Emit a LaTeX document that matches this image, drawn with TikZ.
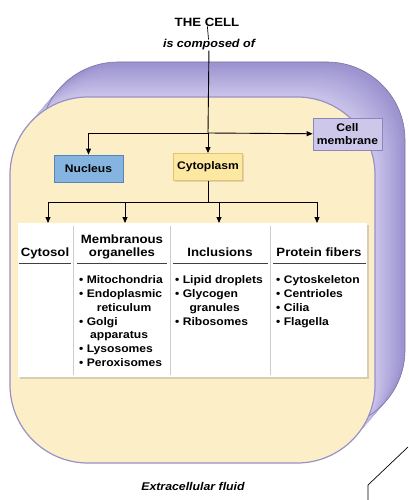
\documentclass[tikz,border=0pt]{standalone}
\usepackage{fontspec}
\setmainfont{Liberation Sans}[FakeStretch=1.1]
\usetikzlibrary{arrows.meta,shadows}
\definecolor{cream}{HTML}{FCEFC8}
\definecolor{cellline}{HTML}{9890C6}
\definecolor{lilaclight}{HTML}{CCC6EC}
\definecolor{lilacdark}{HTML}{9A91CE}
\definecolor{nucfill}{HTML}{85B4E0}
\definecolor{nucline}{HTML}{5784B4}
\definecolor{cytfill}{HTML}{FDE8A2}
\definecolor{cytline}{HTML}{E4C36E}
\definecolor{memfill}{HTML}{CDC7EA}
\definecolor{memline}{HTML}{8D85BE}

\begin{document}
\begin{tikzpicture}[x=1pt,y=-1pt,
            every node/.style={font=\bfseries\fontsize{11}{13}\selectfont, inner sep=0pt},
            arr/.style={-{Triangle[length=6pt,width=5pt]}, line width=0.9pt},
            box/.style={draw, line width=0.8pt, minimum width=69pt, minimum height=27pt,
                drop shadow={opacity=0.25, shadow xshift=1pt, shadow yshift=-1pt}},
            head/.style={anchor=base, align=center, font=\bfseries\fontsize{12}{12.5}\selectfont},
            items/.style={anchor=north west, align=left,
                font=\bfseries\fontsize{11}{13.8}\selectfont},
            sepline/.style={black!20, line width=0.6pt},
            underline/.style={black!75, line width=0.9pt}]
            \useasboundingbox (0,0) rectangle (408,500);

            % membrane seen from the side
            \foreach \t in {30,29,...,1}
                \fill[lilacdark!\fpeval{round(\t*100/30)}!lilaclight, shift={(\t,{-\t*35/30})},
                    rounded corners=78pt] (10,97) rectangle (375,463);
            \draw[lilacdark!80!black, line width=0.6pt, rounded corners=78pt]
                (40,62) rectangle (405,428);
            \filldraw[fill=cream, draw=cellline, line width=1.2pt, rounded corners=78pt]
                (10,97) rectangle (375,463);

            \node[font=\bfseries\fontsize{12}{13}\selectfont] (cell) at (207,22) {THE CELL};
            \node[font=\bfseries\itshape\fontsize{11.4}{13}\selectfont] (composed) at (209,45) {is composed of};

            \node[box, fill=nucfill, draw=nucline] (nucleus) at (88.5,168.5) {Nucleus};
            \node[box, fill=cytfill, draw=cytline] (cytoplasm) at (208,167) {Cytoplasm};
            \node[box, fill=memfill, draw=memline, minimum height=32pt, align=center]
                (membrane) at (347.5,134) {Cell\\membrane};

            \draw[line width=0.7pt] (cell) -- (composed);
            \coordinate (hub) at (208,133);
            \draw[line width=0.9pt] (composed) -- (hub);
            \draw[arr] (hub) -- (cytoplasm);
            \draw[arr] (hub) -| (nucleus);
            \draw[arr] (hub) -- (membrane);

            % table of the cytoplasm
            \node[fill=white, minimum width=349pt, minimum height=154pt,
                drop shadow={opacity=0.3, shadow xshift=2pt, shadow yshift=-2pt}]
                (table) at (192.5,300) {};
            \foreach \x in {73,170,270}
                \draw[sepline] (\x,226) -- (\x,375);
            \draw[underline] (19,263) -- (71,263);
            \draw[underline] (77,263) -- (167,263);
            \draw[underline] (173,263) -- (268,263);
            \draw[underline] (273,263) -- (366,263);

            \coordinate (c1) at (48,223);
            \coordinate (c2) at (125,223);
            \coordinate (c3) at (219,223);
            \coordinate (c4) at (317,223);
            \coordinate (fork) at (208,202);
            \draw[line width=0.9pt] (cytoplasm) -- (fork);
            \foreach \c in {c1,c2,c3,c4}
                \draw[arr] (fork) -| (\c);

            \node[head] (cytosol) at (45,256) {Cytosol};
            \node[head] (membranous) at (122,256) {Membranous\\organelles};
            \node[head] (inclusions) at (220,256) {Inclusions};
            \node[head] (fibers) at (319,256) {Protein fibers};

            \node[items] (organelles) at (79,275.5) {%
                • Mitochondria\\ • Endoplasmic\\ \hspace*{1.6em}reticulum\\ • Golgi\\
                \hspace*{1em}apparatus\\ • Lysosomes\\ • Peroxisomes};
            \node[items] (storage) at (175,275.5) {%
                • Lipid droplets\\ • Glycogen\\ \hspace*{1.3em}granules\\ • Ribosomes};
            \node[items] (skeleton) at (276,275.5) {%
                • Cytoskeleton\\ • Centrioles\\ • Cilia\\ • Flagella};

            \node[anchor=base, font=\bfseries\itshape\fontsize{11.2}{13}\selectfont]
                (fluid) at (193,490) {Extracellular fluid};

            \draw[line width=0.7pt] (408,447) -- (368,485) -- (368,500);
        \end{tikzpicture}
\end{document}
